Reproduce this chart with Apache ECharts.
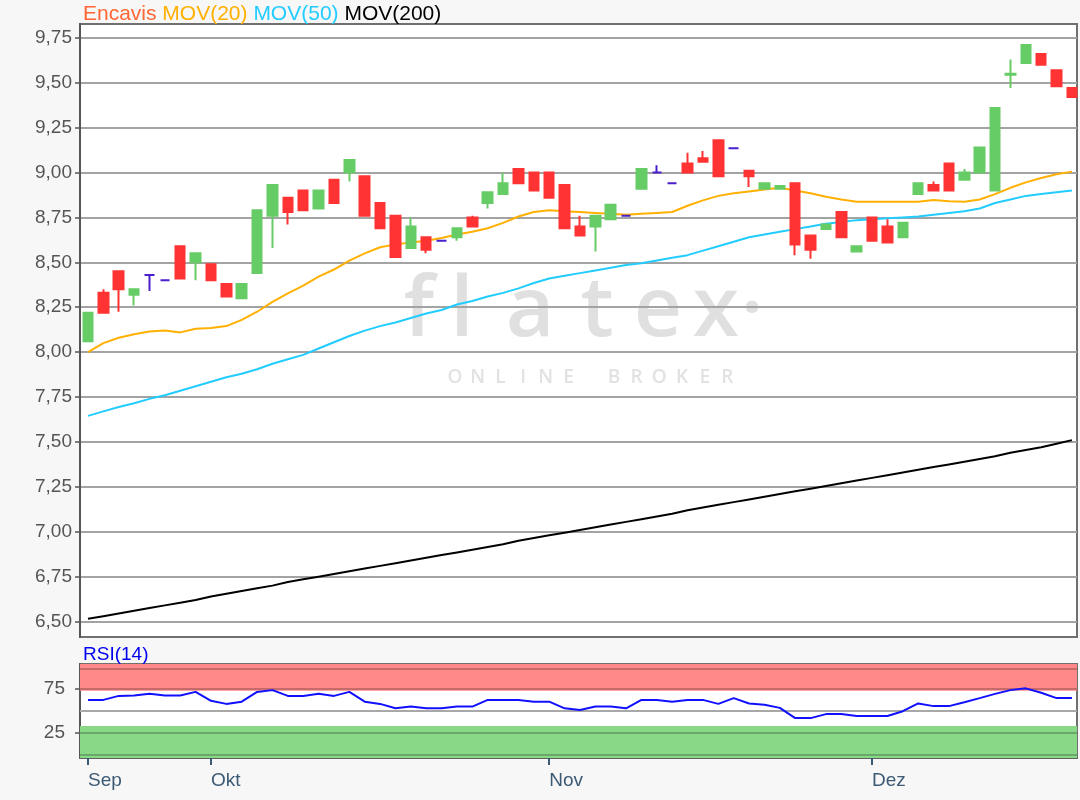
<!DOCTYPE html>
<html>
<head>
<meta charset="utf-8">
<script src="https://cdn.jsdelivr.net/npm/echarts@6/dist/echarts.min.js"></script>
<style>html,body{margin:0;padding:0;background:#f7f7f7}#c{width:1080px;height:800px}</style>
</head>
<body>
<div id="c"></div>
<script>
// ---------------- DATA ----------------
const dates = [
 '2019-09-19','2019-09-20','2019-09-23','2019-09-24','2019-09-25','2019-09-26','2019-09-27','2019-09-30',
 '2019-10-01','2019-10-02','2019-10-04','2019-10-07','2019-10-08','2019-10-09','2019-10-10','2019-10-11','2019-10-14','2019-10-15','2019-10-16','2019-10-17','2019-10-18','2019-10-21','2019-10-22','2019-10-23','2019-10-24','2019-10-25','2019-10-28','2019-10-29','2019-10-30','2019-10-31',
 '2019-11-01','2019-11-04','2019-11-05','2019-11-06','2019-11-07','2019-11-08','2019-11-11','2019-11-12','2019-11-13','2019-11-14','2019-11-15','2019-11-18','2019-11-19','2019-11-20','2019-11-21','2019-11-22','2019-11-25','2019-11-26','2019-11-27','2019-11-28','2019-11-29',
 '2019-12-02','2019-12-03','2019-12-04','2019-12-05','2019-12-06','2019-12-09','2019-12-10','2019-12-11','2019-12-12','2019-12-13','2019-12-16','2019-12-17','2019-12-18','2019-12-19'
];
const monthLabels = ['Sep','Okt','Nov','Dez'];

const open = [8.06,8.33,8.45,8.32,8.43,8.40,8.59,8.50,8.49,8.38,
  8.30,8.44,8.76,8.86,8.90,8.80,8.96,9.00,8.98,8.83,
  8.76,8.58,8.64,8.62,8.64,8.75,8.83,8.88,9.02,9.00,
  9.00,8.93,8.70,8.70,8.74,8.76,8.91,9.00,8.94,9.05,
  9.08,9.18,9.135,9.01,8.91,8.91,8.94,8.65,8.685,8.78,
  8.56,8.75,8.70,8.64,8.88,8.93,9.05,8.96,9.00,8.90,
  9.545,9.61,9.66,9.57,9.47];
const close = [8.22,8.22,8.35,8.35,8.43,8.40,8.41,8.55,8.40,8.31,
  8.38,8.79,8.93,8.78,8.79,8.90,8.83,9.07,8.76,8.69,
  8.53,8.70,8.57,8.62,8.69,8.70,8.89,8.94,8.94,8.90,
  8.86,8.69,8.65,8.76,8.82,8.76,9.02,9.00,8.94,9.00,
  9.06,8.98,9.135,8.98,8.94,8.925,8.60,8.57,8.71,8.64,
  8.59,8.62,8.61,8.72,8.94,8.90,8.90,9.00,9.14,9.36,
  9.55,9.71,9.60,9.48,9.42];
const low = [8.06,8.22,8.225,8.26,8.34,8.40,8.41,8.40,8.40,8.31,
  8.30,8.44,8.58,8.71,8.79,8.80,8.83,8.95,8.76,8.69,
  8.53,8.58,8.55,8.62,8.62,8.70,8.80,8.88,8.94,8.90,
  8.86,8.69,8.65,8.56,8.74,8.76,8.91,9.00,8.94,9.00,
  9.06,8.98,9.135,8.92,8.91,8.91,8.54,8.52,8.685,8.64,
  8.56,8.62,8.61,8.64,8.88,8.90,8.90,8.96,9.00,8.90,
  9.47,9.61,9.60,9.48,9.42];
const high = [8.22,8.35,8.45,8.35,8.43,8.40,8.59,8.55,8.49,8.38,
  8.38,8.79,8.93,8.86,8.90,8.90,8.96,9.07,8.98,8.83,
  8.76,8.75,8.64,8.62,8.69,8.76,8.89,9.00,9.02,9.00,
  9.00,8.93,8.76,8.76,8.82,8.76,9.02,9.04,8.94,9.11,
  9.12,9.18,9.135,9.01,8.94,8.925,8.94,8.65,8.71,8.78,
  8.59,8.75,8.74,8.72,8.94,8.95,9.05,9.02,9.14,9.36,
  9.63,9.71,9.66,9.57,9.47];

const mov20 = [8.00,8.05,8.08,8.10,8.115,8.12,8.11,8.13,8.135,8.145,
  8.18,8.225,8.28,8.327,8.37,8.42,8.46,8.51,8.55,8.584,
  8.60,8.61,8.62,8.635,8.655,8.67,8.69,8.72,8.755,8.78,
  8.79,8.785,8.78,8.775,8.77,8.765,8.77,8.775,8.78,8.815,
  8.845,8.87,8.885,8.895,8.905,8.915,8.90,8.885,8.865,8.85,
  8.837,8.837,8.837,8.837,8.837,8.847,8.84,8.837,8.85,8.88,
  8.915,8.945,8.97,8.99,9.005];
const mov50 = [7.645,7.67,7.695,7.715,7.74,7.76,7.785,7.81,7.835,7.86,
  7.88,7.905,7.935,7.96,7.985,8.02,8.055,8.09,8.12,8.145,
  8.165,8.19,8.215,8.235,8.265,8.285,8.31,8.33,8.355,8.385,
  8.41,8.425,8.44,8.455,8.47,8.485,8.495,8.51,8.525,8.54,
  8.565,8.59,8.615,8.64,8.655,8.67,8.685,8.70,8.715,8.725,
  8.735,8.74,8.745,8.75,8.755,8.765,8.775,8.785,8.80,8.83,
  8.85,8.87,8.88,8.89,8.90];
const mov200 = [6.515,6.53,6.545,6.56,6.575,6.59,6.605,6.62,6.64,6.655,
  6.67,6.685,6.70,6.72,6.735,6.75,6.765,6.78,6.795,6.81,
  6.825,6.84,6.855,6.87,6.885,6.90,6.915,6.93,6.95,6.965,
  6.98,6.995,7.01,7.025,7.04,7.055,7.07,7.085,7.10,7.12,
  7.135,7.15,7.165,7.18,7.195,7.21,7.225,7.24,7.255,7.27,
  7.285,7.30,7.315,7.33,7.345,7.36,7.375,7.39,7.405,7.42,
  7.44,7.455,7.47,7.49,7.51];
const rsi14 = [62,62,66.5,67,69,67,67,71,61,57.5,
  60,71,73,66.5,66.5,68.8,66.5,71,60,57.5,
  52.5,54.5,52.5,52.5,54.5,54.5,62,62,62,60,
  60,52.5,50.6,54.5,54.5,52.5,62,62,60,62,
  62,57.5,64,58,56.5,53,41.5,41.5,46,46,
  43.8,43.8,43.8,49.3,58,55,55,59.3,64,68.8,
  73,75,70,64,64];

const priceTicks = [6.5,6.75,7.0,7.25,7.5,7.75,8.0,8.25,8.5,8.75,9.0,9.25,9.5,9.75];
const rsiTicks = [25,75];
const rsiLines = [0,25,75,96.5];
const rsiZones = {overbought:[72.3,102.4], oversold:[-3.4,32.6]};

// ---------------- BUILD ----------------
const FONT = '"Liberation Sans", Arial, sans-serif';
const DOJI = '#4a1fcc';
const GREEN = '#66cc66', RED = '#ff3333';
const monthStarts = [];
dates.forEach((d,i)=>{ if(i===0 || d.slice(5,7)!==dates[i-1].slice(5,7)) monthStarts.push(i); });

const candleData = dates.map((d,i)=>{
  const item = {value:[i, open[i], close[i], low[i], high[i]]};
  if (open[i] === close[i]) {
    item.itemStyle = {color:DOJI, color0:DOJI, borderColor:DOJI, borderColor0:DOJI, borderColorDoji:DOJI};
  }
  return item;
});
const xy = arr => arr.map((v,i)=>[i,v]);

const X_MIN = -0.52, X_MAX = 64.33;

const graphics = [
  {type:'rect', z:-10, silent:true, shape:{x:80,y:24,width:997,height:613}, style:{fill:'#ffffff'}},
  {type:'rect', z:-10, silent:true, shape:{x:80,y:664,width:997,height:94}, style:{fill:'#ffffff'}},
  {type:'text', z:10, silent:true, x:83, y:14, style:{
    text:'{a|Encavis} {b|MOV(20)} {c|MOV(50)} {d|MOV(200)}',
    font:'21px '+FONT, verticalAlign:'middle',
    rich:{a:{fill:'#ff6633',font:'21px '+FONT},b:{fill:'#ffb000',font:'21px '+FONT},c:{fill:'#22ccff',font:'21px '+FONT},d:{fill:'#000000',font:'21px '+FONT}}
  }},
  {type:'text', z:10, silent:true, x:83, y:655, style:{text:'RSI(14)', font:'19px '+FONT, fill:'#0000ee', verticalAlign:'middle'}}
];
// watermark
[['f',419],['l',462],['a',530],['t',597],['e',658],['x',716],['·',752]].forEach(([ch,x])=>{
  graphics.push({type:'text', z:-5, silent:true, x:x, y:312, style:{text:ch, font:'600 84px "Open Sans", sans-serif', fill:'#e0e0e0', align:'center', verticalAlign:'middle'}});
});
'ONLINE BROKER'.split('').forEach((ch,k)=>{
  graphics.push({type:'text', z:-5, silent:true, x:455+k*22.7, y:378, style:{text:ch, font:'600 19px "Open Sans", sans-serif', fill:'#e2e2e2', align:'center', verticalAlign:'middle'}});
});

const option = {
  animation:false,
  backgroundColor:'#f7f7f7',
  graphic: graphics,
  grid:[
    {left:80, right:3, top:24, height:613, show:true, backgroundColor:'transparent', borderColor:'#707070', borderWidth:2},
    {left:80, right:3, top:664, height:94, show:true, backgroundColor:'transparent', borderColor:'#707070', borderWidth:2}
  ],
  xAxis:[
    {type:'value', gridIndex:0, min:X_MIN, max:X_MAX, axisLine:{show:false, onZero:false}, axisTick:{show:false}, axisLabel:{show:false}, splitLine:{show:false}},
    {type:'value', gridIndex:1, min:X_MIN, max:X_MAX,
      axisLine:{show:true, onZero:false, lineStyle:{color:'#606060', width:2}},
      axisTick:{show:true, customValues:monthStarts, length:7, lineStyle:{color:'#3d5a75', width:2}},
      axisLabel:{show:true, customValues:monthStarts, formatter:v=>monthLabels[monthStarts.indexOf(v)], align:'left', color:'#3d5a75', fontSize:19, fontFamily:FONT, margin:13},
      splitLine:{show:false}}
  ],
  yAxis:[
    {type:'value', gridIndex:0, min:6.414, max:9.827,
      axisLine:{show:true, onZero:false, lineStyle:{color:'#555', width:2}},
      axisTick:{show:true, customValues:priceTicks, length:5, lineStyle:{color:'#555', width:1.5}},
      axisLabel:{customValues:priceTicks, formatter:v=>v.toFixed(2).replace('.',','), color:'#555', fontSize:19, fontFamily:FONT, margin:8},
      splitLine:{show:true, lineStyle:{color:'#a3a3a3', width:2}}},
    {type:'value', gridIndex:1, min:-3.4, max:102.4,
      axisLine:{show:true, onZero:false, lineStyle:{color:'#555', width:2}},
      axisTick:{show:true, customValues:rsiTicks, length:5, lineStyle:{color:'#555', width:1.5}},
      axisLabel:{customValues:rsiTicks, color:'#555', fontSize:19, fontFamily:FONT, margin:15},
      splitLine:{show:false}}
  ],
  series:[
    {type:'candlestick', name:'Encavis', xAxisIndex:0, yAxisIndex:0, z:5,
      dimensions:['idx','open','close','lowest','highest'],
      encode:{x:'idx', y:['open','close','lowest','highest']},
      barWidth:10,
      itemStyle:{color:GREEN, color0:RED, borderColor:GREEN, borderColor0:RED, borderColorDoji:DOJI, borderWidth:2},
      data:candleData},
    {type:'line', name:'MOV(20)', xAxisIndex:0, yAxisIndex:0, z:4, showSymbol:false, silent:true,
      lineStyle:{color:'#ffb000', width:2}, itemStyle:{color:'#ffb000'}, data:xy(mov20)},
    {type:'line', name:'MOV(50)', xAxisIndex:0, yAxisIndex:0, z:4, showSymbol:false, silent:true,
      lineStyle:{color:'#22ccff', width:2}, itemStyle:{color:'#22ccff'}, data:xy(mov50)},
    {type:'line', name:'MOV(200)', xAxisIndex:0, yAxisIndex:0, z:4, showSymbol:false, silent:true,
      lineStyle:{color:'#000000', width:2}, itemStyle:{color:'#000'}, data:xy(mov200)},
    {type:'line', name:'RSI(14)', xAxisIndex:1, yAxisIndex:1, z:6, showSymbol:false, silent:true,
      lineStyle:{color:'#1010ff', width:2}, itemStyle:{color:'#1010ff'}, data:xy(rsi14),
      markArea:{silent:true, data:[
        [{yAxis:rsiZones.overbought[0], itemStyle:{color:'#ff8888'}},{yAxis:rsiZones.overbought[1]}],
        [{yAxis:rsiZones.oversold[0], itemStyle:{color:'#88d888'}},{yAxis:rsiZones.oversold[1]}]
      ]},
      markLine:{silent:true, symbol:['none','none'], label:{show:false},
        data: rsiLines.map(v=>({yAxis:v, lineStyle:{color:'rgba(0,0,0,0.22)', width:2, type:'solid'}}))
          .concat([{yAxis:50, lineStyle:{color:'#a8a8a8', width:2, type:'solid'}}])}
    }
  ]
};
const chart = echarts.init(document.getElementById('c'));
chart.setOption(option);
</script>
</body>
</html>
